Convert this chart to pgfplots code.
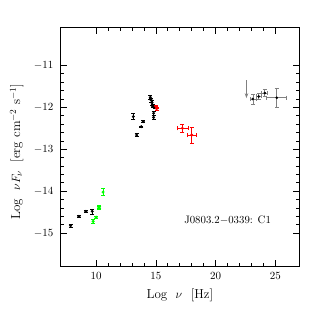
\documentclass[border=0pt]{standalone}
\usepackage{pgfplots}
\pgfplotsset{compat=1.18}
\usetikzlibrary{arrows.meta}
\definecolor{brgreen}{RGB}{0,255,0}
\definecolor{brred}{RGB}{255,0,0}
\begin{document}
\begin{tikzpicture}
\begin{axis}[
  scale only axis, width=239pt, height=239pt,
  xmin=7, xmax=27, ymin=-15.8, ymax=-10.1,
  xtick={10,15,20,25}, minor x tick num=4,
  ytick={-15,-14,-13,-12,-11},
  minor y tick num=4,
  tick align=inside, tick pos=both,
  major tick length=6.5pt, minor tick length=3.5pt,
  axis line style={line width=0.9pt}, every tick/.style={line width=0.7pt, black},
  ticklabel style={font=\fontsize{11}{13}\selectfont},
  yticklabel style={xshift=-3.5pt},
  xticklabel style={yshift=-2.5pt},
  xlabel={Log\ \ $\nu$\ \ [Hz]}, ylabel={Log\ \ $\nu F_\nu$\ \ [erg cm$^{-2}$ s$^{-1}$]},
  label style={font=\fontsize{13}{15}\selectfont},
  xlabel style={at={(axis description cs:0.5,-0.1184)}, anchor=center},
  ylabel style={at={(axis description cs:-0.1824,0.481)}, anchor=center},
  error bars/error bar style={line width=0.6pt},
  error bars/error mark options={rotate=90, mark size=2pt, line width=0.6pt},
]
% black radio
\addplot[only marks, mark=*, mark size=1.3pt, black,
  error bars/.cd, y dir=both, y explicit] coordinates {
  (7.86,-14.82) +- (0,0.04)
  (8.56,-14.60) +- (0,0.02)
  (9.14,-14.48) +- (0,0.02)
  (9.67,-14.48) +- (0,0.06)
};
% green
\addplot[only marks, mark=*, mark size=1.3pt, brgreen,
  error bars/.cd, y dir=both, y explicit] coordinates {
  (9.75,-14.72) +- (0,0.04)
  (10.00,-14.62) +- (0,0.03)
  (10.22,-14.40) +- (0,0.04)
  (10.28,-14.37) +- (0,0.03)
  (10.58,-14.02) +- (0,0.08)
};
% black optical
\addplot[only marks, mark=*, mark size=1.3pt, black,
  error bars/.cd, y dir=both, y explicit] coordinates {
  (13.11,-12.22) +- (0,0.07)
  (13.39,-12.66) +- (0,0.04)
  (13.78,-12.46) +- (0,0.02)
  (13.94,-12.34) +- (0,0.02)
  (14.53,-11.76) +- (0,0.05)
  (14.61,-11.83) +- (0,0.05)
  (14.67,-11.89) +- (0,0.05)
  (14.72,-11.97) +- (0,0.04)
  (14.81,-12.14) +- (0,0.05)
  (14.81,-12.24) +- (0,0.05)
  (14.89,-12.00) +- (0,0.03)
};
% red
\addplot[only marks, mark=*, mark size=1.3pt, brred,
  error bars/.cd, x dir=both, x explicit, y dir=both, y explicit] coordinates {
  (15.00,-11.98) +- (0,0.03)
  (15.06,-12.03) +- (0,0.04)
  (17.22,-12.50) +- (0.46,0.09)
  (18.00,-12.66) +- (0.35,0.19)
};
% gamma
\addplot[only marks, mark=*, mark size=1.1pt, black,
  error bars/.cd, x dir=both, x explicit, y dir=both, y explicit,
  error bar style={gray, line width=0.6pt}] coordinates {
  (23.11,-11.80) +- (0.25,0.12)
  (23.61,-11.74) +- (0.25,0.07)
  (24.11,-11.66) +- (0.25,0.08)
  (25.11,-11.77) +- (0.83,0.23)
};
% upper limit
\addplot[gray, line width=0.7pt, -{Stealth[length=5pt,width=3.5pt]}] coordinates {(22.58,-11.35) (22.58,-11.78)};
\node[font=\fontsize{10.8}{13}\selectfont] at (axis cs:21.0,-14.69) {J0803.2$-$0339: C1};
\end{axis}
\useasboundingbox ([shift={(-60.3pt,-60.3pt)}]current axis.south west) rectangle ([shift={(27.7pt,27.7pt)}]current axis.north east);
\end{tikzpicture}
\end{document}
